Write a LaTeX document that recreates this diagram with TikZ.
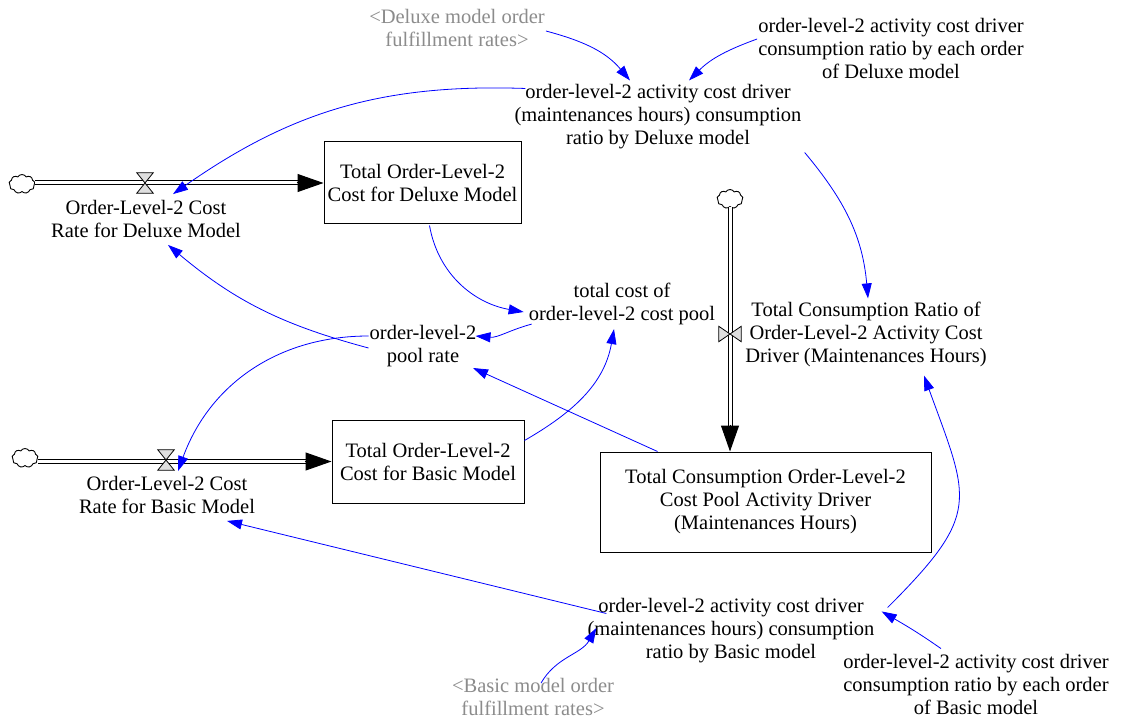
\documentclass[tikz,border=0pt]{standalone}
\usepackage{fontspec}
\setmainfont{Liberation Serif}
\usetikzlibrary{arrows.meta,shapes.symbols}
\tikzset{
  var/.style={align=center, font=\fontsize{20.5}{23}\selectfont, inner sep=1pt},
  ghost/.style={var, text=black!45},
  stock/.style={draw, line width=1pt, align=center, font=\fontsize{20.5}{23}\selectfont, inner sep=0pt},
  link/.style={draw=blue, line width=0.8pt, -{Triangle[length=15pt,width=10pt,fill=blue]}},
  pipe/.style={double, double distance=3pt, line width=1pt},
  pipetip/.style={-{Triangle[length=26pt,width=18pt]}, line width=1pt},
  hvalve/.style={minimum width=16pt, minimum height=20pt, inner sep=0pt},
  vvalve/.style={minimum width=22pt, minimum height=15pt, inner sep=0pt},
  valvest/.style={draw, line width=0.8pt, fill=gray!25},
  cloudn/.style={cloud, cloud puffs=9, cloud puff arc=120, aspect=1.4, draw, fill=white, line width=0.9pt, minimum width=26pt, minimum height=19pt, inner sep=0pt}
}
\begin{document}
\begin{tikzpicture}[x=1pt,y=1pt]
\useasboundingbox (0,0) rectangle (1124,-719);
\fill[white] (0,0) rectangle (1124,-719);

% text variables
\node[ghost] (dfr) at (457,-28) {<Deluxe model order\\fulfillment rates>};
\node[var] (dce) at (891,-48) {order-level-2 activity cost driver\\consumption ratio by each order\\of Deluxe model};
\node[var] (dr) at (658,-117) {order-level-2 activity cost driver\\(maintenances hours) consumption\\ratio by Deluxe model};
\node[var] (rd) at (146,-219) {Order-Level-2 Cost\\Rate for Deluxe Model};
\node[var] (tc) at (622,-304) {total cost of\\order-level-2 cost pool};
\node[var] (pr) at (423,-346) {order-level-2\\pool rate};
\node[var] (tcr) at (866,-334) {Total Consumption Ratio of\\Order-Level-2 Activity Cost\\Driver (Maintenances Hours)};
\node[var] (rb) at (167,-495) {Order-Level-2 Cost\\Rate for Basic Model};
\node[var] (br) at (731,-631) {order-level-2 activity cost driver\\(maintenances hours) consumption\\ratio by Basic model};
\node[ghost] (bfr) at (533,-697) {<Basic model order\\fulfillment rates>};
\node[var] (bce) at (976,-684) {order-level-2 activity cost driver\\consumption ratio by each order\\of Basic model};

% stocks
\node[stock, minimum width=197pt, minimum height=82pt] (bd) at (422.5,-183) {Total Order-Level-2\\Cost for Deluxe Model};
\node[stock, minimum width=192pt, minimum height=83pt] (bb) at (428,-461.5) {Total Order-Level-2\\Cost for Basic Model};
\node[stock, minimum width=331pt, minimum height=100pt] (tcb) at (765.5,-502) {Total Consumption Order-Level-2\\Cost Pool Activity Driver\\(Maintenances Hours)};

% clouds and valves
\node[cloudn] (cd) at (22,-184) {};
\node[cloudn] (cb) at (25,-458) {};
\node[cloudn] (ct) at (730,-199) {};
\node[hvalve] (vd) at (145,-183) {};
\node[hvalve] (vb) at (166,-460) {};
\node[vvalve] (vt) at (730,-334) {};

\coordinate (dtip) at (bd.west);
\coordinate (btip) at (bb.west);
\coordinate (ttip) at (ct.south |- tcb.north);

% pipes
\draw[pipe] (cd.east |- dtip) -- ([xshift=-24pt]dtip);
\draw[pipetip] ([xshift=-27pt]dtip) -- (dtip);
\draw[pipe] (cb.east |- btip) -- ([xshift=-24pt]btip);
\draw[pipetip] ([xshift=-27pt]btip) -- (btip);
\draw[pipe] (ct.south) -- ([yshift=24pt]ttip);
\draw[pipetip] ([yshift=27pt]ttip) -- (ttip);

% valves
\draw[valvest] (vd.north west) -- (vd.north east) -- (vd.south west) -- (vd.south east) -- cycle;
\draw[valvest] (vb.north west) -- (vb.north east) -- (vb.south west) -- (vb.south east) -- cycle;
\draw[valvest] (vt.north west) -- (vt.south west) -- (vt.north east) -- (vt.south east) -- cycle;

% links
\draw[link] ([yshift=-3pt]dfr.east) to[out=-15,in=130] ([xshift=-28pt,yshift=3pt]dr.north);
\draw[link] ([yshift=9pt]dce.west) to[out=200,in=45] ([xshift=31pt,yshift=3pt]dr.north);
\draw[link] ([xshift=12pt,yshift=-5pt]dr.north west) to[out=178,in=35] ([xshift=27pt,yshift=5pt]rd.north);
\draw[link] ([xshift=2pt,yshift=-2pt]dr.south east) to[out=-50,in=95] ([xshift=2pt,yshift=2pt]tcr.north);
\draw[link] ([xshift=7pt,yshift=-1pt]bd.south) to[out=-80,in=170] ([xshift=-4pt,yshift=-8pt]tc.west);
\draw[link] ([xshift=4pt,yshift=2pt]tc.south west) to[out=195,in=-5] ([xshift=-2pt,yshift=10pt]pr.east);
\draw[link] ([yshift=-2pt]pr.west) to[out=165,in=-40] ([xshift=22pt,yshift=-6pt]rd.south);
\draw[link] ([yshift=10pt]pr.west) to[out=180,in=70] ([xshift=11pt,yshift=4pt]rb.north);
\draw[link] ([yshift=21pt]bb.east) to[out=30,in=-100] ([xshift=-8pt,yshift=-3pt]tc.south);
\draw[link] ([xshift=58pt]tcb.north west) -- ([xshift=50pt]pr.south);
\draw[link] ([xshift=20pt,yshift=-16pt]br.north west) -- ([xshift=60pt,yshift=-6pt]rb.south);
\draw[link] ([xshift=8pt,yshift=-6pt]bfr.north) to[out=60,in=-120] ([xshift=10pt,yshift=3pt]br.west);
\draw[link] ([xshift=-35pt,yshift=4pt]bce.north) to[out=145,in=-30] ([xshift=6pt,yshift=-14pt]br.north east);
\draw[link] ([xshift=12pt,yshift=-10pt]br.north east) to[out=45,in=-70,looseness=1.45] ([xshift=58pt,yshift=-8pt]tcr.south);
\end{tikzpicture}
\end{document}
